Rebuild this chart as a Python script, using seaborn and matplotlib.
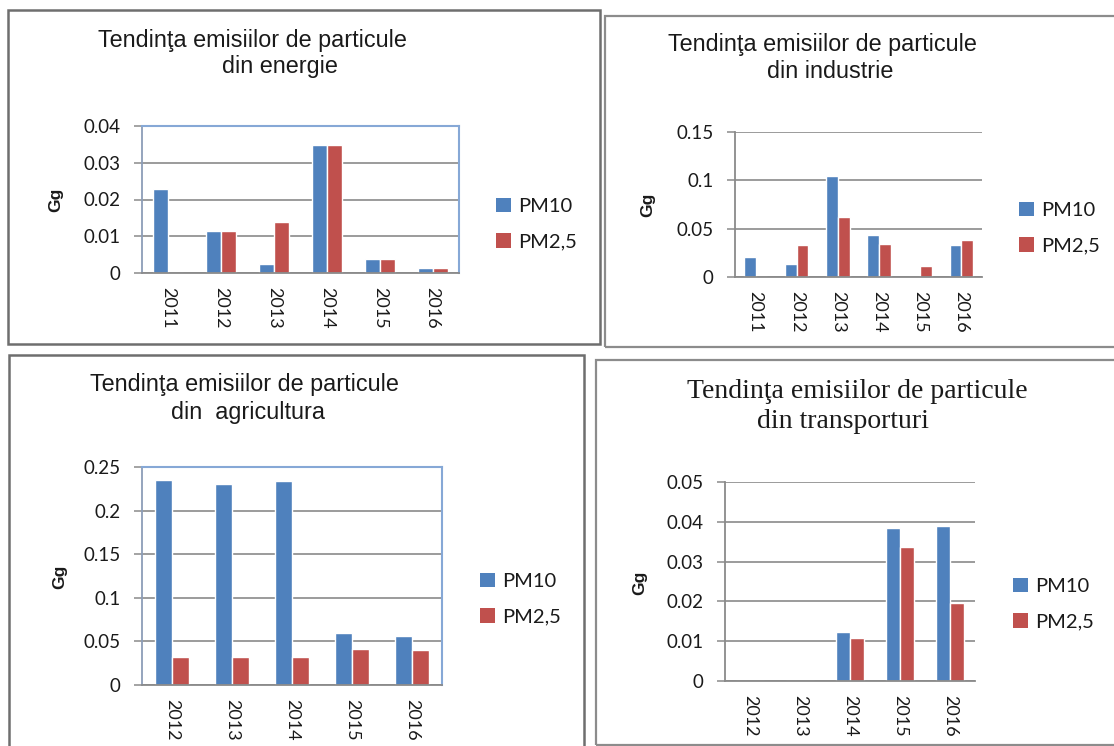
import numpy as np
import pandas as pd
import seaborn as sns
import matplotlib.pyplot as plt
from matplotlib.patches import Rectangle, Patch
from matplotlib.ticker import FuncFormatter, MultipleLocator

W, H = 1114, 746

poluanti = ["PM10", "PM2,5"]

ani_energie = ["2011", "2012", "2013", "2014", "2015", "2016"]
energie_pm10 = [0.0229, 0.0113, 0.0024, 0.0348, 0.0038, 0.0013]
energie_pm25 = [0.0, 0.0113, 0.0138, 0.0347, 0.0038, 0.0013]

ani_industrie = ["2011", "2012", "2013", "2014", "2015", "2016"]
industrie_pm10 = [0.0207, 0.0131, 0.1048, 0.0434, 0.0, 0.0328]
industrie_pm25 = [0.0, 0.0334, 0.0621, 0.0345, 0.0110, 0.0379]

ani_agricultura = ["2012", "2013", "2014", "2015", "2016"]
agricultura_pm10 = [0.2355, 0.2302, 0.2344, 0.0599, 0.0565]
agricultura_pm25 = [0.0324, 0.0317, 0.0324, 0.0412, 0.0401]

ani_transport = ["2012", "2013", "2014", "2015", "2016"]
transport_pm10 = [0.0, 0.0, 0.0124, 0.0384, 0.0390]
transport_pm25 = [0.0, 0.0, 0.0107, 0.0336, 0.0197]

BLUE = "#4F81BD"
RED = "#C0504D"
GRID = "#8A8A8A"
FRAME_BLUE = "#86A8D6"

sns.set_theme(style="white")
plt.rcParams["font.family"] = ["Lato", "DejaVu Sans"]
plt.rcParams["text.color"] = "#1a1a1a"


def fx(x):
    return x / W


def fy(y):
    return 1 - y / H


def make_df(years, pm10, pm25):
    return pd.DataFrame({
        "an": years * 2,
        "Gg": pm10 + pm25,
        "poluant": [poluanti[0]] * len(years) + [poluanti[1]] * len(years),
    })


def panel(box, years, pm10, pm25, ymax, step, boxed, title, title_pos,
          title_family, title_size, gg_pos, leg_pos):
    left, top, right, bottom = box
    ax = fig.add_axes([fx(left), fy(bottom), (right - left) / W, (bottom - top) / H])
    df = make_df(years, pm10, pm25)
    sns.barplot(data=df, x="an", y="Gg", hue="poluant", palette=[BLUE, RED],
                width=0.57, saturation=1, legend=False, ax=ax)
    ax.set_ylim(0, ymax)
    ax.set_xlim(-0.5, len(years) - 0.5)
    ax.yaxis.set_major_locator(MultipleLocator(step))
    ax.yaxis.set_major_formatter(FuncFormatter(lambda v, p: "0" if abs(v) < 1e-12 else f"{v:g}"))
    ax.set_axisbelow(True)
    ax.grid(axis="y", color=GRID, linewidth=1.2)
    ax.set_xlabel("")
    ax.set_ylabel("")
    ax.tick_params(axis="y", length=5.5, width=1.1, color=GRID, pad=10,
                   labelsize=13.5, labelcolor="#1a1a1a", left=True)
    ax.tick_params(axis="x", length=0, pad=10, labelsize=13,
                   labelcolor="#1a1a1a", labelrotation=-90)
    for s in ["left", "bottom"]:
        ax.spines[s].set_color(GRID)
        ax.spines[s].set_linewidth(1.3)
    if boxed:
        for s in ["top", "right"]:
            ax.spines[s].set_color(FRAME_BLUE)
            ax.spines[s].set_linewidth(1.5)
        ax.spines["left"].set_color("#8C9DB8")
    else:
        ax.spines["top"].set_visible(False)
        ax.spines["right"].set_visible(False)

    for (cx, cy), line in zip(title_pos, title):
        fig.text(fx(cx), fy(cy), line, ha="center", va="center",
                 family=title_family, fontsize=title_size, color="#1a1a1a")
    fig.text(fx(gg_pos[0]), fy(gg_pos[1]), "Gg", rotation=90, ha="center",
             va="center", fontweight="bold", fontsize=12.5,
             family=["Liberation Sans", "DejaVu Sans"])
    handles = [Patch(facecolor=BLUE, edgecolor="none"), Patch(facecolor=RED, edgecolor="none")]
    ax.legend(handles, poluanti, loc="center left", bbox_to_anchor=(fx(leg_pos[0]), fy(leg_pos[1])),
              bbox_transform=fig.transFigure, frameon=False, fontsize=14.5,
              handlelength=0.75, handleheight=0.75, handletextpad=0.35,
              labelspacing=0.9, borderpad=0, borderaxespad=0)
    return ax


fig = plt.figure(figsize=(W / 100, H / 100), dpi=100)
fig.patch.set_facecolor("white")

# panel frames
def frame(l, t, r, b, color="#8C8C8C", lw=1.6):
    fig.add_artist(Rectangle((fx(l), fy(b)), (r - l) / W, (b - t) / H,
                             transform=fig.transFigure, fill=False,
                             edgecolor=color, linewidth=lw))

frame(8, 10, 600, 344, color="#6E6E6E", lw=1.8)
frame(605, 16, 1125, 347)
frame(9, 355, 584, 760, color="#6E6E6E", lw=1.8)
frame(596, 360, 1125, 745)

panel((142, 126, 459, 273), ani_energie, energie_pm10, energie_pm25, 0.04, 0.01, True,
      ["Tendinţa emisiilor de particule", "din energie"], [(252, 40), (280, 67)],
      ["Liberation Sans", "DejaVu Sans"], 16.8, (56, 200), (496, 224))

panel((735, 132, 982, 277), ani_industrie, industrie_pm10, industrie_pm25, 0.15, 0.05, False,
      ["Tendinţa emisiilor de particule", "din industrie"], [(822, 44), (830, 72)],
      ["Liberation Sans", "DejaVu Sans"], 16.8, (648, 205), (1019, 228))

panel((142, 467, 442, 685), ani_agricultura, agricultura_pm10, agricultura_pm25, 0.25, 0.05, True,
      ["Tendinţa emisiilor de particule", "din  agricultura"], [(244, 384), (248, 412)],
      ["Liberation Sans", "DejaVu Sans"], 16.8, (60, 577), (480, 599))

panel((725, 482, 975, 681), ani_transport, transport_pm10, transport_pm25, 0.05, 0.01, False,
      ["Tendinţa emisiilor de particule", "din transporturi"], [(857, 391), (843, 421)],
      ["Liberation Serif", "DejaVu Serif"], 20, (640, 583), (1013, 604))

fig.savefig("out.png", dpi=100)
